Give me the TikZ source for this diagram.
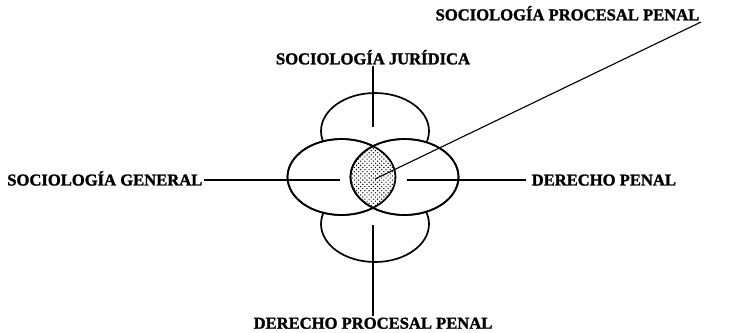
\documentclass[tikz,border=0pt]{standalone}
\usepackage{fontspec}
\newfontfamily\gordo{Liberation Serif Bold}[FakeBold=1.6]
\usetikzlibrary{patterns}
\tikzset{
  rama/.style={font=\fontsize{11.8}{14}\gordo, inner sep=1pt, text height=7.8pt, text depth=0pt},
  ovalo/.style={line width=1.2pt},
  eje/.style={line width=0.8pt}
}
\begin{document}
\begin{tikzpicture}[x=0.025cm,y=-0.025cm]
\useasboundingbox (0,0) rectangle (741,332);
% ovalos de arriba y de abajo
\draw[ovalo] (375,131) ellipse [x radius=54, y radius=38];
\draw[ovalo] (375,224) ellipse [x radius=54, y radius=38];
% ovalos del medio
\filldraw[ovalo, fill=white] (341.5,177) ellipse [x radius=54, y radius=38];
\filldraw[ovalo, fill=white] (404.5,177) ellipse [x radius=54, y radius=38];
\begin{scope}
\clip (341.5,177) ellipse [x radius=54, y radius=38];
\fill[pattern=crosshatch dots] (404.5,177) ellipse [x radius=54, y radius=38];
\end{scope}
\draw[ovalo] (341.5,177) ellipse [x radius=54, y radius=38];
\draw[ovalo] (404.5,177) ellipse [x radius=54, y radius=38];
% textos
\node[rama, anchor=south] (sj) at (373,66) {SOCIOLOGÍA JURÍDICA};
\node[rama, anchor=north] (dpp) at (373,316) {DERECHO PROCESAL PENAL};
\node[rama, anchor=east] (sg) at (204,180) {SOCIOLOGÍA GENERAL};
\node[rama, anchor=west] (dp) at (530,180) {DERECHO PENAL};
\node[rama, anchor=south east] (spp) at (701,22) {SOCIOLOGÍA PROCESAL PENAL};
% extremos libres
\coordinate (sjfin) at (373,127);
\coordinate (dppini) at (373,225);
\coordinate (sgfin) at (340,180);
\coordinate (dpini) at (407,180);
\coordinate (centro) at (375,179);
% lineas
\draw[eje] (sj) -- (sjfin);
\draw[eje] (dppini) -- (dpp);
\draw[eje] (sg) -- (sgfin);
\draw[eje, shorten >=3pt] (dpini) -- (dp);
\draw[eje] (spp.south east) -- (centro);
\end{tikzpicture}
\end{document}
